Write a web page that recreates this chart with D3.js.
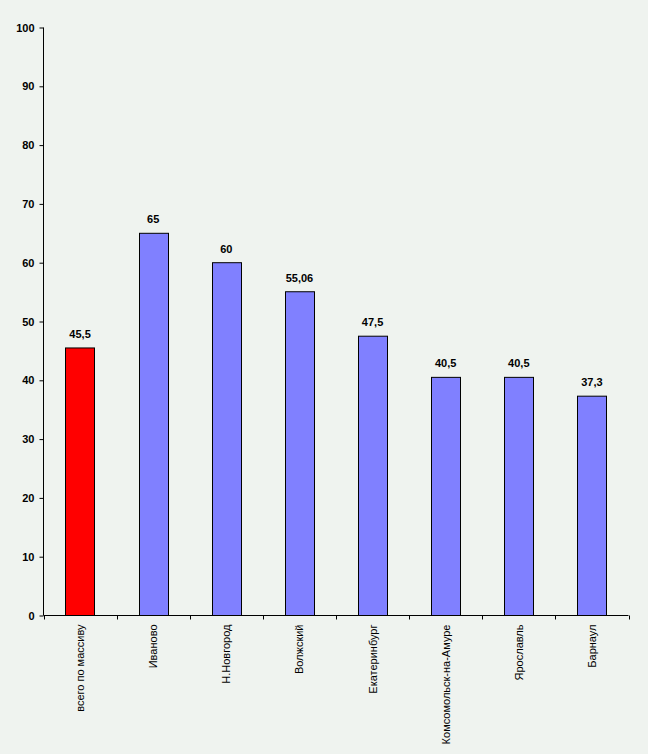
<!DOCTYPE html>
<html><head><meta charset="utf-8">
<script src="https://cdn.jsdelivr.net/npm/d3@7"></script>
<style>
html,body{margin:0;padding:0;background:#EFF3EF;}
svg{display:block;}
</style></head>
<body>
<svg id="chart" width="648" height="754"></svg>
<script>
const categories = ["всего по массиву","Иваново","Н.Новгород","Волжский","Екатеринбург","Комсомольск-на-Амуре","Ярославль","Барнаул"];
const values = [45.5, 65, 60, 55.06, 47.5, 40.5, 40.5, 37.3];
const valueLabels = ["45,5","65","60","55,06","47,5","40,5","40,5","37,3"];
const barColors = ["#FF0000","#8080FF","#8080FF","#8080FF","#8080FF","#8080FF","#8080FF","#8080FF"];
const yTicks = [0,10,20,30,40,50,60,70,80,90,100];

(function(){
const svg = d3.select("#chart");
const mLeft = 43.5, mRight = 628.5, mTop = 27.5, mBottom = 615.5;

const x = d3.scaleBand().domain(categories).range([mLeft, mRight]).paddingInner(0.6).paddingOuter(0.3);
const y = d3.scaleLinear().domain([0,100]).range([mBottom, mTop]);

const font = "Arial, 'Liberation Sans', sans-serif";

// bars
svg.append("g").selectAll("rect").data(categories).join("rect")
  .attr("x", d => Math.round(x(d)) + 0.5)
  .attr("y", (d,i) => y(values[i]))
  .attr("width", Math.round(x.bandwidth()))
  .attr("height", (d,i) => mBottom - y(values[i]))
  .attr("fill", (d,i) => barColors[i])
  .attr("stroke", "#000").attr("stroke-width", 1);

// y axis
const yAxis = d3.axisLeft(y).tickValues(yTicks).tickSize(4).tickPadding(5).tickFormat(d3.format("d"));
const gy = svg.append("g").attr("transform", `translate(${mLeft},0)`).call(yAxis);
gy.select(".domain").attr("d", `M0,${mTop}V${mBottom}`);
gy.selectAll("text").attr("font-family", font).attr("font-size", 11).attr("font-weight", "bold").attr("fill","#000");

// x axis
const xBand = d3.scaleBand().domain(categories).range([mLeft, mRight]);
const gx = svg.append("g").attr("transform", `translate(0,${mBottom})`);
gx.append("path").attr("d", `M${mLeft},0H${mRight}`).attr("stroke","#000").attr("fill","none");
const edges = categories.map(c => xBand(c)).concat([mRight]);
gx.selectAll("line.tk").data(edges).join("line").attr("class","tk")
  .attr("x1", d => Math.round(d)+0.5).attr("x2", d => Math.round(d)+0.5)
  .attr("y1", 0).attr("y2", 4).attr("stroke","#000");
gx.selectAll("text").data(categories).join("text")
  .attr("transform", d => `translate(${x(d) + x.bandwidth()/2 + 4},9) rotate(-90)`)
  .attr("text-anchor","end")
  .attr("font-family", font).attr("font-size", 11).attr("fill","#000")
  .text(d => d);

// value labels
svg.append("g").selectAll("text").data(categories).join("text")
  .attr("x", d => x(d) + x.bandwidth()/2)
  .attr("y", (d,i) => y(values[i]) - 10)
  .attr("text-anchor","middle")
  .attr("font-family", font).attr("font-size", 11).attr("font-weight","bold").attr("fill","#000")
  .text((d,i) => valueLabels[i]);
})();
</script>
</body></html>
